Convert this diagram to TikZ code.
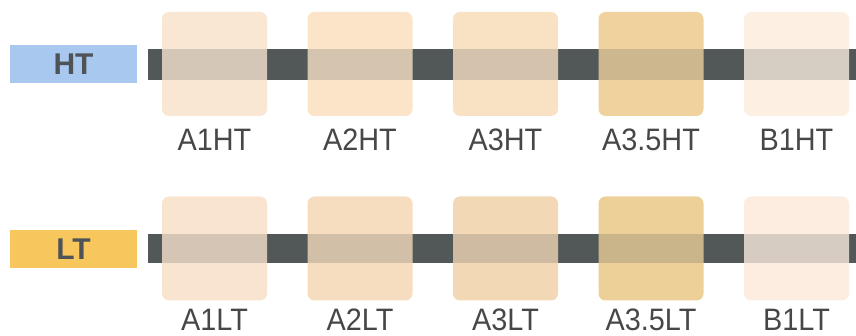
\documentclass[tikz,border=0pt]{standalone}
\usepackage{fontspec}
\setmainfont{Liberation Sans}
\newfontfamily\lblfont{Liberation Sans}[FakeStretch=0.93]
\usetikzlibrary{positioning}
\definecolor{barcol}{HTML}{525857}
\definecolor{htblue}{HTML}{A9C8EF}
\definecolor{ltgold}{HTML}{F7C65C}
\definecolor{tagtext}{HTML}{4D5356}
% teintes
\definecolor{a1h}{HTML}{F9E7D3}
\definecolor{a2h}{HTML}{FBE4C7}
\definecolor{a3h}{HTML}{F9E1C4}
\definecolor{a35h}{HTML}{EFD29E}
\definecolor{b1h}{HTML}{FDF0E2}
\definecolor{a1l}{HTML}{F9E4CF}
\definecolor{a2l}{HTML}{F6DDBF}
\definecolor{a3l}{HTML}{F3D8B6}
\definecolor{a35l}{HTML}{EDCF98}
\definecolor{b1l}{HTML}{FDEDE0}
\tikzset{
  swatch/.style={rounded corners=7pt, minimum width=105pt, minimum height=104pt, inner sep=0pt},
  shadename/.style={font=\lblfont\fontsize{31}{31}\selectfont, text=black!72, inner sep=0pt, anchor=base},
  rowtag/.style={minimum width=127pt, minimum height=38pt, inner sep=0pt, text=tagtext, font=\fontsize{30}{30}\selectfont\bfseries}
}
\begin{document}
\begin{tikzpicture}[x=1pt,y=-1pt]
  \useasboundingbox (0,0) rectangle (856,336);
  % HT
  \node[rowtag, fill=htblue] (tagHT) at (73.5,64.5) {HT};
  \coordinate (barHTa) at (148,49);
  \coordinate (barHTb) at (856,80);
  \fill[barcol] (barHTa) rectangle (barHTb);
  \foreach \nm/\col [count=\i] in {A1HT/a1h, A2HT/a2h, A3HT/a3h, A3.5HT/a35h, B1HT/b1h}{
    \node[swatch, fill=\col] (sw\i HT) at ({214.5+145.5*(\i-1)},64) {};
    \node[shadename] (lb\i HT) at ([yshift=-34pt]sw\i HT.south) {\nm};
  }
  \fill[barcol, fill opacity=.22] (barHTa) rectangle (barHTb);
  % LT
  \node[rowtag, fill=ltgold] (tagLT) at (73.5,249) {LT};
  \coordinate (barLTa) at (148,234);
  \coordinate (barLTb) at (856,263);
  \fill[barcol] (barLTa) rectangle (barLTb);
  \foreach \nm/\col [count=\i] in {A1LT/a1l, A2LT/a2l, A3LT/a3l, A3.5LT/a35l, B1LT/b1l}{
    \node[swatch, fill=\col] (sw\i LT) at ({214.5+145.5*(\i-1)},248.5) {};
    \node[shadename] (lb\i LT) at ([yshift=-30pt]sw\i LT.south) {\nm};
  }
  \fill[barcol, fill opacity=.22] (barLTa) rectangle (barLTb);
\end{tikzpicture}
\end{document}
